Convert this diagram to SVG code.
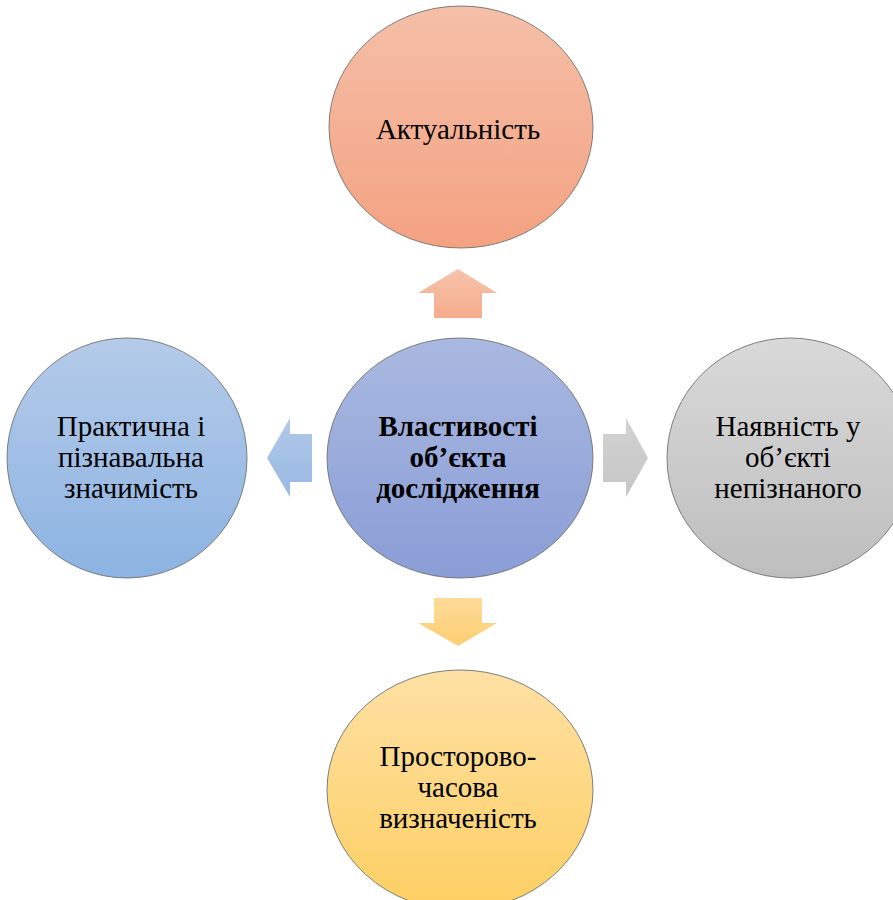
<svg xmlns="http://www.w3.org/2000/svg" width="893" height="900" viewBox="0 0 893 900">
<defs>
<linearGradient id="gTop" x1="0" y1="0" x2="0" y2="1"><stop offset="0" stop-color="#f5bfa8"/><stop offset="1" stop-color="#f4a282"/></linearGradient>
<linearGradient id="gCen" x1="0" y1="0" x2="0" y2="1"><stop offset="0" stop-color="#a9b9e0"/><stop offset="1" stop-color="#8a9dd6"/></linearGradient>
<linearGradient id="gLeft" x1="0" y1="0" x2="0" y2="1"><stop offset="0" stop-color="#b5cbe9"/><stop offset="1" stop-color="#8cb3e2"/></linearGradient>
<linearGradient id="gRight" x1="0" y1="0" x2="0" y2="1"><stop offset="0" stop-color="#d9d9d9"/><stop offset="1" stop-color="#bebebe"/></linearGradient>
<linearGradient id="gBot" x1="0" y1="0" x2="0" y2="1"><stop offset="0" stop-color="#fde0a4"/><stop offset="1" stop-color="#fdcf62"/></linearGradient>
<linearGradient id="aUp" x1="0" y1="0" x2="0" y2="1"><stop offset="0" stop-color="#f7c3aa"/><stop offset="1" stop-color="#f5ac8c"/></linearGradient>
<linearGradient id="aLeft" x1="0" y1="0" x2="0" y2="1"><stop offset="0" stop-color="#b0c9e8"/><stop offset="1" stop-color="#98b8e3"/></linearGradient>
<linearGradient id="aRight" x1="0" y1="0" x2="0" y2="1"><stop offset="0" stop-color="#d2d2d2"/><stop offset="1" stop-color="#c6c6c6"/></linearGradient>
<linearGradient id="aDown" x1="0" y1="0" x2="0" y2="1"><stop offset="0" stop-color="#fddb98"/><stop offset="1" stop-color="#fdce72"/></linearGradient>
</defs>
<style>
.node{stroke:#707070;stroke-width:0.9}
.t{font-family:"Liberation Serif","Times New Roman",serif;font-size:29px;fill:#000;text-anchor:middle}
.b{font-weight:bold}
</style>
<rect width="893" height="900" fill="#fff"/>
<g id="connectors">
<polygon points="458,269 497,293 482,293 482,318 434,318 434,293 418,293" fill="url(#aUp)"/>
<polygon points="267,458 290,418 290,434 312,434 312,482 290,482 290,497" fill="url(#aLeft)"/>
<polygon points="648,458 626,418 626,434 603,434 603,482 626,482 626,497" fill="url(#aRight)"/>
<polygon points="458,646 497,623 482,623 482,598 434,598 434,623 418,623" fill="url(#aDown)"/>
</g>
<g id="top">
<ellipse class="node" cx="461" cy="127" rx="132" ry="121" fill="url(#gTop)"/>
<text class="t" x="458" y="139">Актуальність</text>
</g>
<g id="center">
<ellipse class="node" cx="460" cy="458" rx="133" ry="120" fill="url(#gCen)"/>
<text class="t b" x="458" y="436">Властивості</text>
<text class="t b" x="458" y="467">об’єкта</text>
<text class="t b" x="458" y="498">дослідження</text>
</g>
<g id="left">
<ellipse class="node" cx="127" cy="458" rx="120" ry="120" fill="url(#gLeft)"/>
<text class="t" x="131" y="436">Практична і</text>
<text class="t" x="131" y="467">пізнавальна</text>
<text class="t" x="131" y="498">значимість</text>
</g>
<g id="right">
<ellipse class="node" cx="790" cy="458" rx="123" ry="120" fill="url(#gRight)"/>
<text class="t" x="788" y="436">Наявність у</text>
<text class="t" x="788" y="467">об’єкті</text>
<text class="t" x="788" y="498">непізнаного</text>
</g>
<g id="bottom">
<ellipse class="node" cx="460" cy="790" rx="133" ry="120" fill="url(#gBot)"/>
<text class="t" x="458" y="766">Просторово-</text>
<text class="t" x="458" y="797">часова</text>
<text class="t" x="458" y="828">визначеність</text>
</g>
</svg>
